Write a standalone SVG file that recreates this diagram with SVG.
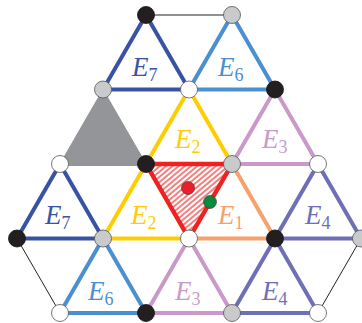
<svg xmlns="http://www.w3.org/2000/svg" width="362" height="323" viewBox="0 0 362 323">
<defs>
<pattern id="hatch" width="4" height="4" patternUnits="userSpaceOnUse" patternTransform="rotate(-40)">
<rect width="4" height="4" fill="#ffffff"/>
<line x1="0" y1="2" x2="4" y2="2" stroke="#ee2a2a" stroke-width="1.2"/>
</pattern>
</defs>
<style>
.tri{fill:none;stroke-width:4;stroke-linejoin:round}
.e7{stroke:#3a52a4}
.e6{stroke:#4a8fcf}
.e2{stroke:#ffcc00}
.e3{stroke:#c99ac9}
.e1{stroke:#f7a16c}
.e4{stroke:#6e6fb6}
.thin{stroke:#222;stroke-width:1;fill:none}
.nb{fill:#231f20;stroke:#111;stroke-width:0.8}
.ng{fill:#c9cacc;stroke:#555;stroke-width:0.8}
.nw{fill:#ffffff;stroke:#555;stroke-width:0.8}
.lab{font-family:"Liberation Serif","DejaVu Serif",serif;font-style:italic;font-size:27px}
.sub{font-style:normal;font-size:18px}
</style>
<g id="connectors">
<polygon points="103,89.5 60,164 146,164" fill="#939598" stroke="#939598" stroke-width="1"/>
<line x1="60" y1="164" x2="146" y2="164" stroke="#939598" stroke-width="4"/>
<line class="thin" x1="146" y1="15" x2="232" y2="15"/>
<line class="thin" x1="17" y1="238.5" x2="60" y2="313"/>
<line class="thin" x1="361" y1="238.5" x2="318" y2="313"/>
<polygon class="tri e7" points="146,15 103,89.5 189,89.5"/>
<polygon class="tri e6" points="232,15 189,89.5 275,89.5"/>
<polygon class="tri e2" points="189,89.5 146,164 232,164"/>
<polygon class="tri e3" points="275,89.5 232,164 318,164"/>
<polygon class="tri e7" points="60,164 17,238.5 103,238.5"/>
<polygon class="tri e2" points="146,164 103,238.5 189,238.5"/>
<polygon class="tri e1" points="232,164 189,238.5 275,238.5"/>
<polygon class="tri e4" points="318,164 275,238.5 361,238.5"/>
<polygon class="tri e6" points="103,238.5 60,313 146,313"/>
<polygon class="tri e3" points="189,238.5 146,313 232,313"/>
<polygon class="tri e4" points="275,238.5 232,313 318,313"/>
<polygon points="146,164 232,164 189,238.5" fill="url(#hatch)" stroke="#ee2222" stroke-width="4.5" stroke-linejoin="round"/>
</g>
<g id="n1"><circle class="nb" cx="146" cy="15" r="8.5"/></g>
<g id="n2"><circle class="ng" cx="232" cy="15" r="8.5"/></g>
<g id="n3"><circle class="ng" cx="103" cy="89.5" r="8.5"/></g>
<g id="n4"><circle class="nw" cx="189" cy="89.5" r="8.5"/></g>
<g id="n5"><circle class="nb" cx="275" cy="89.5" r="8.5"/></g>
<g id="n6"><circle class="nw" cx="60" cy="164" r="8.5"/></g>
<g id="n7"><circle class="nb" cx="146" cy="164" r="8.5"/></g>
<g id="n8"><circle class="ng" cx="232" cy="164" r="8.5"/></g>
<g id="n9"><circle class="nw" cx="318" cy="164" r="8.5"/></g>
<g id="n10"><circle class="nb" cx="17" cy="238.5" r="8.5"/></g>
<g id="n11"><circle class="ng" cx="103" cy="238.5" r="8.5"/></g>
<g id="n12"><circle class="nw" cx="189" cy="238.5" r="8.5"/></g>
<g id="n13"><circle class="nb" cx="275" cy="238.5" r="8.5"/></g>
<g id="n14"><circle class="ng" cx="361" cy="238.5" r="8.5"/></g>
<g id="n15"><circle class="nw" cx="60" cy="313" r="8.5"/></g>
<g id="n16"><circle class="nb" cx="146" cy="313" r="8.5"/></g>
<g id="n17"><circle class="ng" cx="232" cy="313" r="8.5"/></g>
<g id="n18"><circle class="nw" cx="318" cy="313" r="8.5"/></g>
<g id="dot-red"><circle cx="188" cy="188" r="6.5" fill="#e8202a" stroke="#333" stroke-width="0.6"/></g>
<g id="dot-green"><circle cx="210" cy="202" r="6.5" fill="#0a8a3c" stroke="#333" stroke-width="0.6"/></g>
<g id="labels">
<text class="lab" x="132" y="76" fill="#3a52a4">E<tspan class="sub" dy="5">7</tspan></text>
<text class="lab" x="218" y="76" fill="#4a8fcf">E<tspan class="sub" dy="5">6</tspan></text>
<text class="lab" x="175" y="148" fill="#ffcc00">E<tspan class="sub" dy="5">2</tspan></text>
<text class="lab" x="262" y="148" fill="#c99ac9">E<tspan class="sub" dy="5">3</tspan></text>
<text class="lab" x="45" y="224" fill="#3a52a4">E<tspan class="sub" dy="5">7</tspan></text>
<text class="lab" x="131" y="224" fill="#ffcc00">E<tspan class="sub" dy="5">2</tspan></text>
<text class="lab" x="218" y="224" fill="#f7a16c">E<tspan class="sub" dy="5">1</tspan></text>
<text class="lab" x="305" y="224" fill="#6e6fb6">E<tspan class="sub" dy="5">4</tspan></text>
<text class="lab" x="88" y="300" fill="#4a8fcf">E<tspan class="sub" dy="5">6</tspan></text>
<text class="lab" x="175" y="300" fill="#c99ac9">E<tspan class="sub" dy="5">3</tspan></text>
<text class="lab" x="262" y="300" fill="#6e6fb6">E<tspan class="sub" dy="5">4</tspan></text>
</g>
</svg>
